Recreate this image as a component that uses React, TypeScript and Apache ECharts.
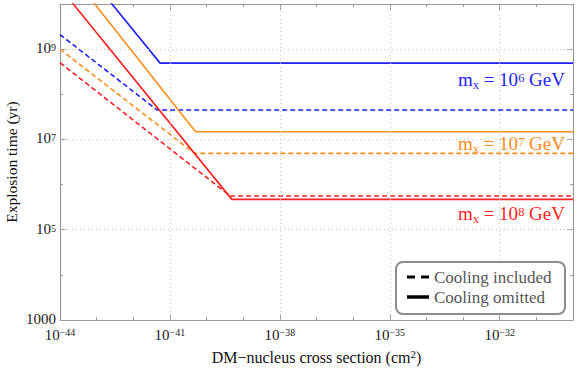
import React, { useEffect, useRef } from 'react';
import * as echarts from 'echarts';

const FONT = 'Liberation Serif, Times New Roman, serif';

// Axis ranges (cross section in cm^2, explosion time in yr)
const xMin = 1e-44;
const xMax = 1e-30;
const yMin = 1e3;
const yMax = 1e10;

// Gridline positions (labelled decades)
const xGridValues = [1e-41, 1e-38, 1e-35, 1e-32];
const yGridValues = [1e5, 1e7, 1e9];

// DM masses (exponent of m_x in GeV) and their colours
const massExponents = ['6', '7', '8'];
const massColors = ['#1f1fff', '#ff8c1a', '#ff1f1f'];

// Cooling omitted (solid): [cross section cm^2, explosion time yr]
const omitted6 = [[1e-44, 2.6e11], [5.4e-42, 4.9e8], [1e-30, 4.9e8]];
const omitted7 = [[1e-44, 9.5e10], [5.0e-41, 1.48e7], [1e-30, 1.48e7]];
const omitted8 = [[1e-44, 2.3e10], [4.9e-40, 4.7e5], [1e-30, 4.7e5]];

// Cooling included (dashed)
const included6 = [[1e-44, 2.1e9], [4.5e-42, 4.47e7], [1e-30, 4.47e7]];
const included7 = [[1e-44, 1.0e9], [4.7e-41, 4.9e6], [1e-30, 4.9e6]];
const included8 = [[1e-44, 5.0e8], [4.4e-40, 5.6e5], [1e-30, 5.6e5]];

const omittedSets = [omitted6, omitted7, omitted8];
const includedSets = [included6, included7, included8];

const legendItems = ['Cooling included', 'Cooling omitted'];

// ECharts rounds very small numbers badly, so the x axis works in units of 1e-44 cm^2
const X_UNIT = 1e-44;
const X_UNIT_EXP = -44;

const AXIS_COLOR = '#999999';

export default function App() {
  const ref = useRef<HTMLDivElement>(null);

  useEffect(() => {
    if (!ref.current) return;
    const chart = echarts.init(ref.current, null, { renderer: 'svg' });

    const toX = (pts: number[][]) => pts.map(([x, y]) => [x / X_UNIT, y]);

    const xTickRich = {
      b: { fontSize: 15, fontFamily: FONT, color: '#1a1a1a', lineHeight: 15, verticalAlign: 'bottom' },
      s: { fontSize: 10, fontFamily: FONT, color: '#1a1a1a', lineHeight: 10, verticalAlign: 'top' },
    };
    const yTickRich = {
      b: { fontSize: 15, fontFamily: FONT, color: '#1a1a1a', lineHeight: 13, verticalAlign: 'bottom' },
      s: { fontSize: 10, fontFamily: FONT, color: '#1a1a1a', lineHeight: 10, verticalAlign: 'top' },
    };

    const xLabel = (v: number) => {
      const e = Math.round(Math.log10(v)) + X_UNIT_EXP;
      if ((e - X_UNIT_EXP) % 3 !== 0 || e > -32) return '';
      return `{b|10}{s|${e < 0 ? '\u2212' + Math.abs(e) : e}}`;
    };
    const yLabel = (v: number) => {
      const e = Math.round(Math.log10(v));
      if (e % 2 === 0) return '';
      if (e === 3) return '{b|1000}';
      return `{b|10}{s|${e}}`;
    };

    const lineStyleAxis = { color: AXIS_COLOR, width: 1.2 };
    const minorTick = { show: true, inside: true, length: 3, lineStyle: { color: AXIS_COLOR, width: 1 } };
    const majorTick = { show: true, inside: true, length: 6, lineStyle: { color: AXIS_COLOR, width: 1 } };

    const mkSeries = (data: number[][], color: string, dashed: boolean) => ({
      type: 'line',
      data: toX(data),
      symbol: 'none',
      showSymbol: false,
      silent: true,
      clip: true,
      z: 3,
      lineStyle: { color, width: 1.6, type: dashed ? [5, 3] : 'solid' },
    });

    const series: any[] = [
      {
        type: 'line',
        data: [],
        silent: true,
        z: 1,
        markLine: {
          silent: true,
          symbol: 'none',
          animation: false,
          label: { show: false },
          lineStyle: { color: '#c4c4c4', type: [1, 3], width: 1 },
          data: [
            ...xGridValues.map((v) => ({ xAxis: v / X_UNIT })),
            ...yGridValues.map((v) => ({ yAxis: v })),
          ],
        },
      },
    ];
    massColors.forEach((c, i) => {
      series.push(mkSeries(omittedSets[i], c, false));
      series.push(mkSeries(includedSets[i], c, true));
    });

    const labelYs = [79, 143, 213];
    const massLabels = massExponents.map((e, i) => ({
      type: 'text',
      x: 565,
      y: labelYs[i],
      z: 10,
      style: {
        text: `{m|m}{sub|x}{t| = 10}{sup|${e}}{t| GeV}`,
        align: 'right',
        verticalAlign: 'middle',
        fill: massColors[i],
        rich: {
          m: { fontSize: 19, fontFamily: FONT, fill: massColors[i], lineHeight: 24 },
          t: { fontSize: 19, fontFamily: FONT, fill: massColors[i], lineHeight: 24 },
          sub: { fontSize: 12.5, fontFamily: FONT, fill: massColors[i], lineHeight: 17, verticalAlign: 'bottom' },
          sup: { fontSize: 12.5, fontFamily: FONT, fill: massColors[i], lineHeight: 12, verticalAlign: 'top', padding: [4, 0, 0, 0] },
        },
      },
    }));

    const LX = 396;
    const LY = 262;
    const legendBox = [
      {
        type: 'rect',
        z: 10,
        shape: { x: LX, y: LY, width: 169, height: 52, r: 7 },
        style: { fill: '#ffffff', stroke: '#8c8c8c', lineWidth: 2 },
      },
      {
        type: 'line',
        z: 11,
        shape: { x1: LX + 11, y1: LY + 15, x2: LX + 33, y2: LY + 15 },
        style: { stroke: '#000', lineWidth: 3.2, lineDash: [8, 6] },
      },
      {
        type: 'line',
        z: 11,
        shape: { x1: LX + 11, y1: LY + 35, x2: LX + 33, y2: LY + 35 },
        style: { stroke: '#000', lineWidth: 3.5 },
      },
    ];
    const legendTexts = legendItems.map((t, i) => ({
      type: 'text',
      z: 11,
      x: LX + 38,
      y: LY + 15 + i * 20,
      style: {
        text: `{l|${t}}`,
        verticalAlign: 'middle',
        align: 'left',
        rich: { l: { fontSize: 17, fontFamily: FONT, fill: '#555555', lineHeight: 19 } },
      },
    }));

    const xTitle = {
      type: 'text',
      x: 316.5,
      y: 357,
      z: 10,
      style: {
        text: '{t|DM\u2212nucleus cross section (cm}{s|2}{t|)}',
        align: 'center',
        verticalAlign: 'middle',
        rich: {
          t: { fontSize: 16, fontFamily: FONT, fill: '#111', lineHeight: 17, verticalAlign: 'bottom' },
          s: { fontSize: 11, fontFamily: FONT, fill: '#111', lineHeight: 10, verticalAlign: 'top' },
        },
      },
    };

    const yTitle = {
      type: 'text',
      x: 11,
      y: 162,
      rotation: Math.PI / 2,
      z: 10,
      style: {
        text: '{t|Explosion time (yr)}',
        align: 'center',
        verticalAlign: 'middle',
        rich: { t: { fontSize: 15.5, fontFamily: FONT, fill: '#111', lineHeight: 18 } },
      },
    };

    const xAxisBase = {
      type: 'log',
      logBase: 10,
      min: xMin / X_UNIT,
      max: xMax / X_UNIT,
      interval: 1,
      splitNumber: 14,
      axisLine: { show: true, onZero: false, lineStyle: lineStyleAxis },
      axisTick: minorTick,
      splitLine: { show: false },
      minorTick: { show: false },
    };
    const xMajorBase = {
      ...xAxisBase,
      interval: 3,
      axisLine: { show: false, onZero: false },
      axisTick: majorTick,
      axisLabel: { show: false },
    };
    const yAxisBase = {
      type: 'log',
      logBase: 10,
      min: yMin,
      max: yMax,
      interval: 1,
      splitNumber: 7,
      axisLine: { show: true, onZero: false, lineStyle: lineStyleAxis },
      axisTick: minorTick,
      splitLine: { show: false },
      minorTick: { show: false },
    };
    const yMajorBase = {
      ...yAxisBase,
      interval: 2,
      axisLine: { show: false, onZero: false },
      axisTick: majorTick,
      axisLabel: { show: false },
    };

    const option: any = {
      animation: false,
      backgroundColor: '#ffffff',
      grid: { left: 60, right: 8, top: 4, bottom: 49, containLabel: false, outerBoundsMode: 'none' },
      xAxis: [
        {
          ...xAxisBase,
          position: 'bottom',
          axisLabel: { formatter: xLabel, rich: xTickRich, margin: 7, showMinLabel: true, showMaxLabel: true, hideOverlap: false },
        },
        { ...xAxisBase, position: 'top', axisLabel: { show: false } },
        { ...xMajorBase, position: 'bottom' },
        { ...xMajorBase, position: 'top' },
      ],
      yAxis: [
        {
          ...yAxisBase,
          position: 'left',
          axisLabel: { formatter: yLabel, rich: yTickRich, margin: 4, showMinLabel: true, showMaxLabel: true, hideOverlap: false },
        },
        { ...yAxisBase, position: 'right', axisLabel: { show: false } },
        { ...yMajorBase, position: 'left' },
        { ...yMajorBase, position: 'right' },
      ],
      series,
      graphic: [...massLabels, ...legendBox, ...legendTexts, xTitle, yTitle],
    };

    chart.setOption(option);
    return () => chart.dispose();
  }, []);

  return (
    <div
      ref={ref}
      style={{ position: 'fixed', left: 0, top: 0, width: 581, height: 369, background: '#fff' }}
    />
  );
}
